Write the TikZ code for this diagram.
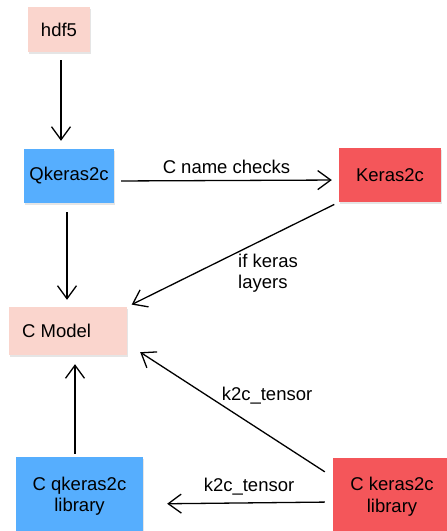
\documentclass[tikz,border=0pt]{standalone}
\usepackage{fontspec}
\setmainfont{Liberation Sans}
\usetikzlibrary{arrows.meta,shadows}
\definecolor{boxpink}{HTML}{FAD5CD}
\definecolor{boxblue}{HTML}{56AEFE}
\definecolor{boxred}{HTML}{F4565A}

\begin{document}
\begin{tikzpicture}[x=1pt, y=-1pt,
    every node/.style={font=\fontsize{18.5}{21.5}\selectfont},
    box/.style={rectangle, inner sep=0pt, align=center, drop shadow={shadow xshift=0.6pt, shadow yshift=-1.6pt, opacity=0.2}},
    link/.style={line width=1.3pt, -{Straight Barb[length=13pt, width=19pt, line width=1.3pt]}}]
    \clip (0,0) rectangle (447,531);
    \fill[white] (0,0) rectangle (447,531);
    \node[box, fill=boxpink, minimum width=62pt, minimum height=45pt] (hdf) at (59,29.5) {hdf5};
    \node[box, fill=boxblue, minimum width=90pt, minimum height=54pt] (qk) at (69,176) {Qkeras2c};
    \node[box, fill=boxred, minimum width=102pt, minimum height=54pt] (ke) at (390,175) {Keras2c};
    \node[box, fill=boxpink, minimum width=118pt, minimum height=48pt] (cm) at (68,331) {};
    \node[anchor=west, inner sep=0pt] (cmtext) at (22,331) {C Model};
    \node[box, fill=boxblue, minimum width=127pt, minimum height=78pt] (qlib) at (79.5,496) {C qkeras2c\\library};
    \node[box, fill=boxred, minimum width=118pt, minimum height=78pt] (klib) at (392,496.5) {C keras2c\\library};

    \draw[link, shorten <=8pt, shorten >=8pt] ([xshift=2pt]hdf.south) -- ([xshift=-8pt]qk.north);
    \draw[link, shorten <=7pt, shorten >=7pt] ([yshift=-5pt]qk.east) -- ([yshift=-5pt]ke.west)
        node[midway, above=3pt] (namechk) {C name checks};
    \draw[link, shorten <=5pt, shorten >=5pt] (ke.south west) -- (cm.north east);
    \node[align=left] (ifkeras) at (268,273) {if keras\\layers};
    \draw[link, shorten <=9pt, shorten >=7pt] ([xshift=-2pt]qk.south) -- ([xshift=-1pt]cm.north);
    \draw[link, shorten <=3pt, shorten >=9pt] ([xshift=-4.5pt]qlib.north) -- ([xshift=7pt]cm.south);
    \draw[link, shorten <=9.5pt] ([yshift=19.5pt]klib.west) -- ([xshift=13pt, yshift=3pt]cm.south east);
    \node (tens1) at (267,396) {k2c\_tensor};
    \draw[link, shorten <=8pt, shorten >=24pt] ([yshift=-5.5pt]klib.west) -- ([yshift=-8pt]qlib.east);
    \node (tens2) at (249,487) {k2c\_tensor};
\end{tikzpicture}
\end{document}
